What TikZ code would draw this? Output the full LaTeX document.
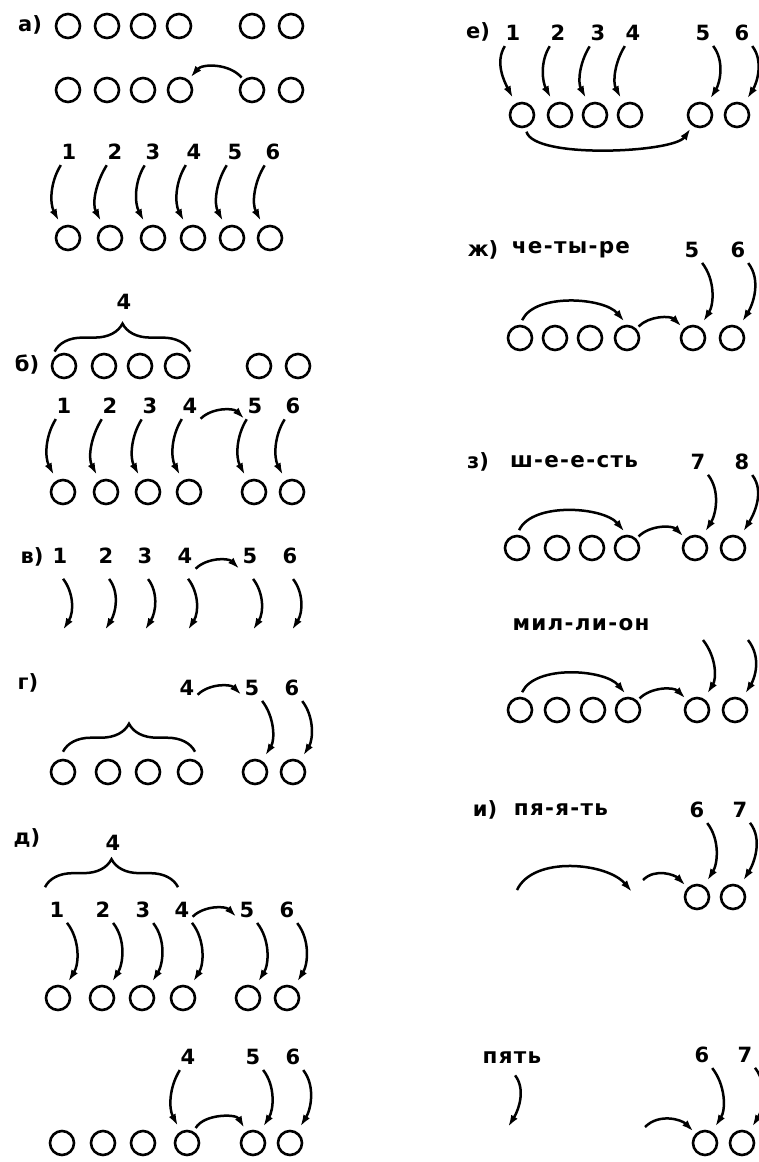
\documentclass[tikz,border=0pt]{standalone}
\usepackage{fontspec}
\setmainfont{DejaVu Sans}
\newfontfamily\wordfont{DejaVu Sans}[LetterSpace=6]
\usetikzlibrary{arrows.meta,decorations.pathreplacing}

\begin{document}
\begin{tikzpicture}[x=1pt,y=-1pt,font=\fontsize{21}{24}\selectfont\bfseries,
  dot/.style={circle,draw,line width=2.6pt,minimum size=24pt,inner sep=0pt},
  num/.style={inner sep=1pt},
  word/.style={font=\fontsize{21.5}{24}\selectfont\wordfont\bfseries},
  arr/.style={->,line width=2.5pt,shorten <=5pt,shorten >=6pt},
  fallL/.style={arr,out=-122,in=118},
  fallR/.style={arr,out=-52,in=58},
  hop/.style={arr,out=45,in=135,shorten <=3pt,shorten >=3pt},
  sweep/.style={arr,out=65,in=130,looseness=.85,shorten <=5pt,shorten >=4pt},
  brc/.style={decorate,decoration={brace,amplitude=28pt},line width=2.5pt},
  >={Latex[length=12pt,width=7.5pt]}]
\useasboundingbox (0,0) rectangle (758,1162);
% а)
\node (la) at (30,25) {а)};
\node[dot] (a1) at (68,26) {}; \node[dot] (a2) at (107,26) {}; \node[dot] (a3) at (143,26) {};
\node[dot] (a4) at (179,26) {}; \node[dot] (a5) at (252,26) {}; \node[dot] (a6) at (291,26) {};
\node[dot] (aa1) at (68,90) {}; \node[dot] (aa2) at (107,90) {}; \node[dot] (aa3) at (143,90) {};
\node[dot] (aa4) at (180,90) {}; \node[dot] (aa5) at (252,90) {}; \node[dot] (aa6) at (291,90) {};
\draw[arr,out=130,in=50,shorten <=3pt,shorten >=3pt] (aa5) to (aa4);
\node[num] (an1) at (69,152) {1}; \node[num] (an2) at (115,152) {2}; \node[num] (an3) at (153,152) {3};
\node[num] (an4) at (194,152) {4}; \node[num] (an5) at (235,152) {5}; \node[num] (an6) at (273,152) {6};
\node[dot] (ac1) at (68,238) {}; \node[dot] (ac2) at (110,238) {}; \node[dot] (ac3) at (153,238) {};
\node[dot] (ac4) at (193,238) {}; \node[dot] (ac5) at (232,238) {}; \node[dot] (ac6) at (270,238) {};
\draw[fallL] (an1) to (ac1); \draw[fallL] (an2) to (ac2); \draw[fallL] (an3) to (ac3);
\draw[fallL] (an4) to (ac4); \draw[fallL] (an5) to (ac5); \draw[fallL] (an6) to (ac6);
% б)
\node[num] (bq) at (124,302) {4};
\node (lb) at (27,365) {б)};
\node[dot] (b1) at (64,366) {}; \node[dot] (b2) at (104,366) {}; \node[dot] (b3) at (140,366) {};
\node[dot] (b4) at (177,366) {}; \node[dot] (b5) at (259,366) {}; \node[dot] (b6) at (298,366) {};
\draw[brc] ([yshift=5pt]b1.north west) -- ([yshift=5pt,xshift=4pt]b4.north east);
\node[num] (bn1) at (64,406) {1}; \node[num] (bn2) at (110,406) {2}; \node[num] (bn3) at (150,406) {3};
\node[num] (bn4) at (190,406) {4}; \node[num] (bn5) at (255,406) {5}; \node[num] (bn6) at (293,406) {6};
\node[dot] (bc1) at (63,492) {}; \node[dot] (bc2) at (106,492) {}; \node[dot] (bc3) at (148,492) {};
\node[dot] (bc4) at (189,492) {}; \node[dot] (bc5) at (254,492) {}; \node[dot] (bc6) at (292,492) {};
\draw[fallL] (bn1) to (bc1); \draw[fallL] (bn2) to (bc2); \draw[fallL] (bn3) to (bc3);
\draw[fallL] (bn4) to (bc4); \draw[fallL] (bn5) to (bc5); \draw[fallL] (bn6) to (bc6);
\draw[hop] ([yshift=-6pt]bn4.south east) to ([yshift=-6pt]bn5.south west);
% в)
\node (lv) at (32,557) {в)};
\node[num] (vn1) at (60,556) {1}; \node[num] (vn2) at (106,556) {2}; \node[num] (vn3) at (145,556) {3};
\node[num] (vn4) at (185,556) {4}; \node[num] (vn5) at (250,556) {5}; \node[num] (vn6) at (290,556) {6};
\coordinate (ve1) at (63,630); \coordinate (ve2) at (105,630); \coordinate (ve3) at (145,630);
\coordinate (ve4) at (188,630); \coordinate (ve5) at (253,630); \coordinate (ve6) at (292,630);
\draw[fallR,shorten >=0pt] ([yshift=-10pt]vn1.south) to (ve1); \draw[fallR,shorten >=0pt] ([yshift=-10pt]vn2.south) to (ve2);
\draw[fallR,shorten >=0pt] ([yshift=-10pt]vn3.south) to (ve3); \draw[fallR,shorten >=0pt] ([yshift=-10pt]vn4.south) to (ve4);
\draw[fallR,shorten >=0pt] ([yshift=-10pt]vn5.south) to (ve5); \draw[fallR,shorten >=0pt] ([yshift=-10pt]vn6.south) to (ve6);
\draw[hop] ([yshift=-6pt]vn4.south east) to ([yshift=-6pt]vn5.south west);
% г)
\node (lg) at (28,683) {г)};
\node[num] (gn4) at (187,688) {4}; \node[num] (gn5) at (252,688) {5}; \node[num] (gn6) at (292,688) {6};
\draw[hop] (gn4.south east) to (gn5.south west);
\node[dot] (gc1) at (63,772) {}; \node[dot] (gc2) at (108,772) {}; \node[dot] (gc3) at (148,772) {};
\node[dot] (gc4) at (190,772) {}; \node[dot] (gc5) at (255,772) {}; \node[dot] (gc6) at (293,772) {};
\draw[brc] ([yshift=7pt]gc1.north) -- ([yshift=7pt,xshift=5pt]gc4.north);
\draw[fallR] (gn5) to (gc5); \draw[fallR] (gn6) to (gc6);
% д)
\node (ld) at (27,838) {д)};
\node[num] (dq) at (113,843) {4};
\node[num] (dn1) at (57,910) {1}; \node[num] (dn2) at (103,910) {2}; \node[num] (dn3) at (143,910) {3};
\node[num] (dn4) at (182,910) {4}; \node[num] (dn5) at (247,910) {5}; \node[num] (dn6) at (287,910) {6};
\draw[brc] ([xshift=-12pt,yshift=14pt]dn1.north) -- ([xshift=-4pt,yshift=14pt]dn4.north);
\node[dot] (dc1) at (58,998) {}; \node[dot] (dc2) at (102,998) {}; \node[dot] (dc3) at (142,998) {};
\node[dot] (dc4) at (183,998) {}; \node[dot] (dc5) at (248,998) {}; \node[dot] (dc6) at (287,998) {};
\draw[fallR] (dn1) to (dc1); \draw[fallR] (dn2) to (dc2); \draw[fallR] (dn3) to (dc3);
\draw[fallR] (dn4) to (dc4); \draw[fallR] (dn5) to (dc5); \draw[fallR] (dn6) to (dc6);
\draw[hop] (dn4.south east) to (dn5.south west);
\node[num] (dm4) at (188,1057) {4}; \node[num] (dm5) at (253,1057) {5}; \node[num] (dm6) at (293,1057) {6};
\node[dot] (dd1) at (62,1143) {}; \node[dot] (dd2) at (103,1143) {}; \node[dot] (dd3) at (143,1143) {};
\node[dot] (dd4) at (187,1143) {}; \node[dot] (dd5) at (253,1143) {}; \node[dot] (dd6) at (290,1143) {};
\draw[fallL] (dm4) to (dd4); \draw[fallR] (dm5) to (dd5); \draw[fallR] (dm6) to (dd6);
\draw[arr,out=60,in=120,shorten <=4pt,shorten >=4pt] (dd4) to (dd5);
% е)
\node (le) at (478,32) {е)};
\node[num] (en1) at (513,33) {1}; \node[num] (en2) at (558,33) {2}; \node[num] (en3) at (598,33) {3};
\node[num] (en4) at (633,33) {4}; \node[num] (en5) at (703,33) {5}; \node[num] (en6) at (742,33) {6};
\node[dot] (ec1) at (522,115) {}; \node[dot] (ec2) at (560,115) {}; \node[dot] (ec3) at (595,115) {};
\node[dot] (ec4) at (630,115) {}; \node[dot] (ec5) at (700,115) {}; \node[dot] (ec6) at (737,115) {};
\draw[fallL] (en1) to (ec1); \draw[fallL] (en2) to (ec2); \draw[fallL] (en3) to (ec3);
\draw[fallL] (en4) to (ec4); \draw[fallR] (en5) to (ec5); \draw[fallR] (en6) to (ec6);
\draw[arr,out=-75,in=-125,looseness=.5,shorten <=4pt,shorten >=3pt] (ec1) to (ec5);
% ж)
\node (lzh) at (483,250) {ж)}; \node[word] (wzh) at (571,250) {че-ты-ре};
\node[num] (zhn5) at (692,250) {5}; \node[num] (zhn6) at (738,250) {6};
\node[dot] (zhc1) at (520,338) {}; \node[dot] (zhc2) at (555,338) {}; \node[dot] (zhc3) at (590,338) {};
\node[dot] (zhc4) at (627,338) {}; \node[dot] (zhc5) at (693,338) {}; \node[dot] (zhc6) at (732,338) {};
\draw[fallR] (zhn5) to (zhc5); \draw[fallR] (zhn6) to (zhc6);
\draw[sweep] (zhc1.north) to (zhc4.north); \draw[hop] (zhc4) to (zhc5);
% з)
\node (lz) at (478,462) {з)}; \node[word] (wz) at (574,462) {ш-е-е-сть};
\node[num] (zn7) at (698,462) {7}; \node[num] (zn8) at (742,462) {8};
\node[dot] (zc1) at (517,548) {}; \node[dot] (zc2) at (557,548) {}; \node[dot] (zc3) at (592,548) {};
\node[dot] (zc4) at (627,548) {}; \node[dot] (zc5) at (695,548) {}; \node[dot] (zc6) at (733,548) {};
\draw[fallR] (zn7) to (zc5); \draw[fallR] (zn8) to (zc6);
\draw[sweep] (zc1.north) to (zc4.north); \draw[hop] (zc4) to (zc5);
% мил-ли-он
\node[word] (wm) at (581,625) {мил-ли-он};
\coordinate (ms5) at (703,640); \coordinate (ms6) at (748,640);
\node[dot] (mc1) at (520,710) {}; \node[dot] (mc2) at (557,710) {}; \node[dot] (mc3) at (593,710) {};
\node[dot] (mc4) at (628,710) {}; \node[dot] (mc5) at (697,710) {}; \node[dot] (mc6) at (735,710) {};
\draw[fallR,shorten <=0pt] (ms5) to (mc5); \draw[fallR,shorten <=0pt] (ms6) to (mc6);
\draw[sweep] (mc1.north) to (mc4.north); \draw[hop] (mc4) to (mc5);
% и)
\node (li) at (485,810) {и)}; \node[word] (wi) at (561,810) {пя-я-ть};
\node[num] (in6) at (697,810) {6}; \node[num] (in7) at (740,810) {7};
\node[dot] (ic6) at (697,897) {}; \node[dot] (ic7) at (733,897) {};
\coordinate (ia) at (517,890); \coordinate (ib) at (632,892); \coordinate (ic) at (643,880);
\draw[sweep,shorten <=0pt,shorten >=0pt] (ia) to (ib); \draw[hop,shorten <=0pt] (ic) to (ic6);
\draw[fallR] (in6) to (ic6); \draw[fallR] (in7) to (ic7);
% пять
\node[word] (wp) at (512,1058) {пять};
\coordinate (pe) at (508,1127);
\draw[fallR,shorten >=0pt] ([yshift=-4pt]wp.south) to (pe);
\node[num] (pn6) at (702,1055) {6}; \node[num] (pn7) at (745,1055) {7};
\node[dot] (pc6) at (705,1143) {}; \node[dot] (pc7) at (742,1143) {};
\coordinate (pa) at (645,1127);
\draw[hop,shorten <=0pt] (pa) to (pc6);
\draw[fallR] (pn6) to (pc6); \draw[fallR] (pn7) to (pc7);
\end{tikzpicture}
\end{document}
